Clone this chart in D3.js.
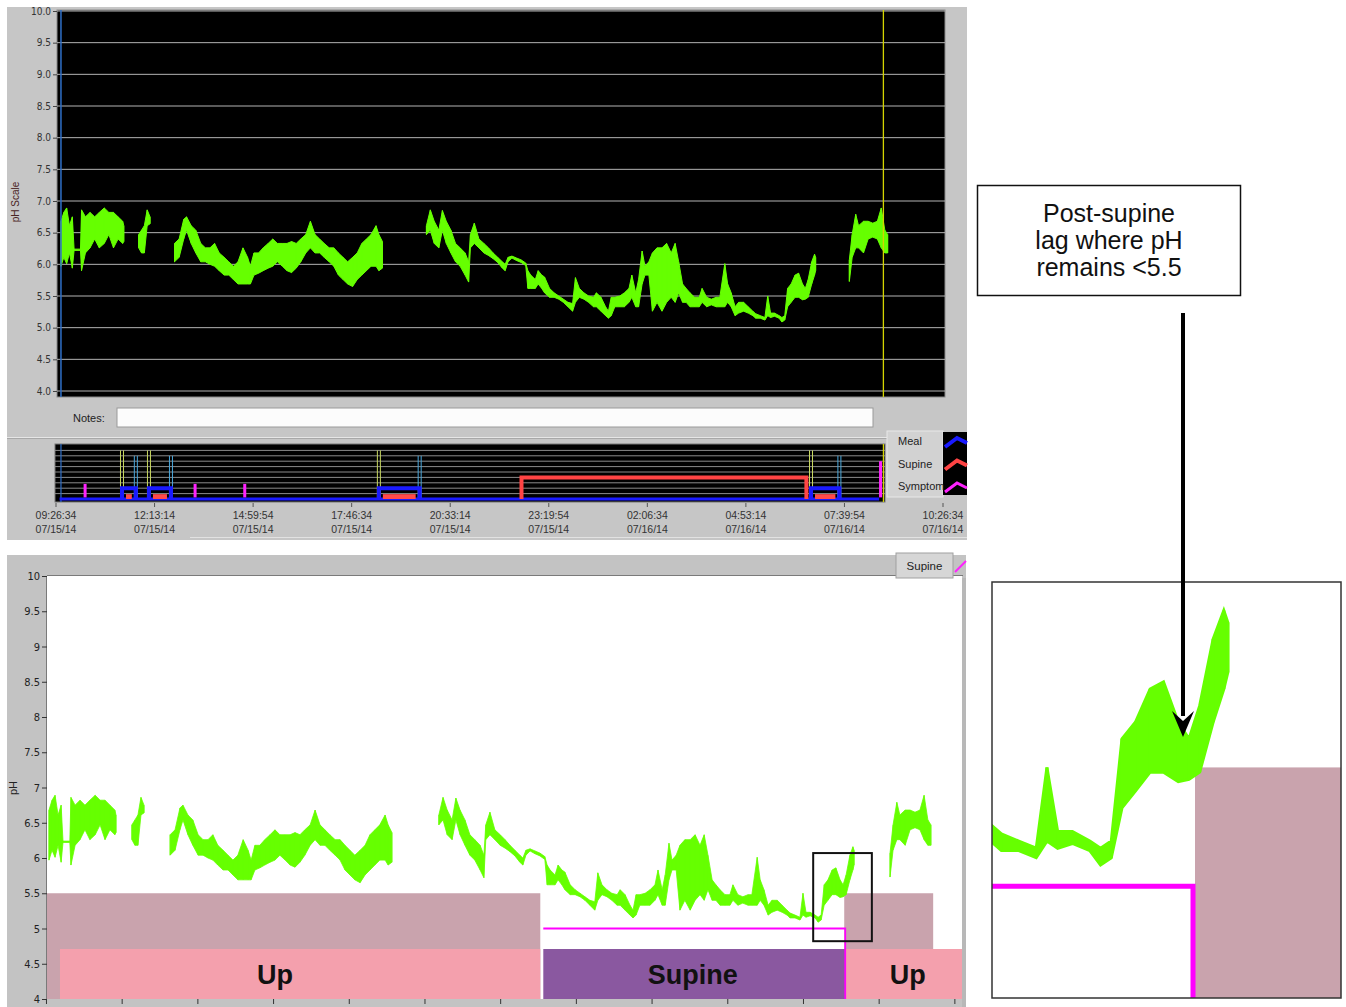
<!DOCTYPE html>
<html><head><meta charset="utf-8">
<script src="https://cdn.jsdelivr.net/npm/d3@7"></script>
<style>
body{margin:0;background:#fff;}
svg{display:block;font-family:"Liberation Sans",Arial,sans-serif;}
</style>
</head><body>
<svg id="c" width="1346" height="1007"></svg>
<script>
// ---------------- DATA (time in hours since 09:26:34 07/15/14; [t, pH low, pH high]) ----------------
const phSegA = [[0.14,5.97,6.68],[0.22,6.11,6.82],[0.30,6.01,6.89],[0.38,6.18,6.61],[0.46,5.94,6.75],[0.51,6.22,6.24],[0.69,6.22,6.24],[0.72,5.90,6.86],[0.83,6.18,6.75],[0.96,6.26,6.82],[1.09,6.40,6.75],[1.22,6.26,6.82],[1.36,6.33,6.89],[1.49,6.47,6.82],[1.62,6.26,6.82],[1.75,6.40,6.75],[1.88,6.33,6.68],[1.91,6.36,6.61]];
const phSegB = [[2.33,6.26,6.47],[2.41,6.18,6.54],[2.49,6.18,6.61],[2.57,6.61,6.86],[2.65,6.64,6.75]];
const phSegC = [[3.34,6.04,6.33],[3.47,6.11,6.40],[3.60,6.40,6.71],[3.68,6.54,6.75],[3.81,6.33,6.61],[3.94,6.18,6.54],[4.08,6.04,6.33],[4.21,6.04,6.26],[4.34,6.00,6.26],[4.47,5.97,6.33],[4.60,5.90,6.18],[4.74,5.83,6.11],[4.87,5.83,6.04],[5.00,5.76,5.97],[5.13,5.69,6.04],[5.27,5.69,6.26],[5.40,5.69,6.11],[5.48,5.69,5.97],[5.58,5.83,6.18],[5.71,5.86,6.18],[5.84,5.90,6.26],[5.98,5.94,6.33],[6.11,5.97,6.40],[6.24,6.04,6.33],[6.38,5.97,6.33],[6.51,5.90,6.33],[6.64,5.87,6.36],[6.77,5.94,6.33],[6.90,6.04,6.40],[7.04,6.18,6.47],[7.17,6.26,6.68],[7.30,6.18,6.47],[7.43,6.18,6.40],[7.56,6.11,6.33],[7.70,6.04,6.26],[7.83,5.97,6.26],[7.96,5.83,6.18],[8.09,5.76,6.11],[8.22,5.69,6.04],[8.36,5.65,6.11],[8.49,5.76,6.18],[8.62,5.83,6.33],[8.75,5.90,6.40],[8.88,5.97,6.47],[9.02,5.97,6.61],[9.10,5.90,6.47],[9.20,5.94,6.36]];
const phSegD = [[10.44,6.47,6.61],[10.55,6.54,6.86],[10.66,6.33,6.68],[10.79,6.26,6.54],[10.89,6.54,6.85],[11.00,6.33,6.68],[11.13,6.18,6.54],[11.26,6.04,6.33],[11.39,5.97,6.26],[11.53,5.83,6.18],[11.63,5.72,6.04],[11.68,6.26,6.47],[11.79,6.33,6.65],[11.92,6.26,6.40],[12.06,6.18,6.33],[12.19,6.14,6.26],[12.32,6.09,6.18],[12.45,6.03,6.11],[12.58,5.94,6.04],[12.66,5.90,6.00],[12.74,6.04,6.11],[12.85,6.10,6.13],[12.98,6.06,6.10],[13.11,6.03,6.07],[13.24,5.98,6.02],[13.30,5.62,5.90],[13.38,5.62,5.83],[13.51,5.62,5.76],[13.59,5.69,5.90],[13.69,5.62,5.83],[13.77,5.55,5.80],[13.91,5.48,5.62],[14.04,5.48,5.55],[14.17,5.45,5.50],[14.30,5.40,5.45],[14.43,5.33,5.40],[14.56,5.26,5.38],[14.64,5.40,5.79],[14.75,5.48,5.62],[14.88,5.45,5.55],[15.01,5.40,5.50],[15.15,5.33,5.48],[15.23,5.33,5.55],[15.36,5.26,5.48],[15.49,5.19,5.33],[15.57,5.15,5.26],[15.65,5.19,5.48],[15.75,5.33,5.48],[15.89,5.33,5.50],[16.02,5.33,5.55],[16.15,5.40,5.62],[16.23,5.48,5.83],[16.34,5.33,5.55],[16.42,5.33,5.76],[16.52,5.69,6.21],[16.60,5.83,5.97],[16.71,5.83,6.04],[16.81,5.26,6.18],[16.94,5.40,6.26],[17.08,5.26,6.26],[17.21,5.40,6.33],[17.34,5.48,6.18],[17.45,5.40,6.33],[17.55,5.55,6.04],[17.66,5.40,5.69],[17.76,5.40,5.62],[17.87,5.33,5.55],[18.00,5.33,5.48],[18.13,5.33,5.48],[18.21,5.40,5.62],[18.34,5.33,5.48],[18.47,5.36,5.45],[18.61,5.33,5.48],[18.71,5.33,5.48],[18.85,5.33,6.01],[18.93,5.40,5.69],[19.03,5.33,5.55],[19.14,5.19,5.33],[19.24,5.23,5.40],[19.38,5.26,5.40],[19.51,5.23,5.33],[19.64,5.19,5.26],[19.72,5.15,5.22],[19.85,5.15,5.19],[19.98,5.12,5.16],[20.06,5.19,5.50],[20.14,5.16,5.23],[20.25,5.18,5.23],[20.38,5.15,5.19],[20.46,5.09,5.16],[20.54,5.12,5.19],[20.62,5.33,5.62],[20.72,5.40,5.69],[20.83,5.48,5.83],[20.93,5.48,5.86],[21.04,5.44,5.69],[21.12,5.45,5.62],[21.20,5.48,5.76],[21.30,5.69,6.04],[21.38,5.83,6.16],[21.41,5.90,6.11]];
const phSegE = [[22.36,5.73,6.07],[22.44,6.11,6.47],[22.54,6.26,6.79],[22.62,6.26,6.61],[22.76,6.18,6.68],[22.89,6.40,6.68],[23.02,6.43,6.65],[23.15,6.40,6.68],[23.26,6.26,6.89],[23.36,6.18,6.54],[23.44,6.18,6.47]];
const phSegments = [phSegA, phSegB, phSegC, phSegD, phSegE];

const phTicks = [4,4.5,5,5.5,6,6.5,7,7.5,8,8.5,9,9.5,10];
const stripTickTimes = ["09:26:34","12:13:14","14:59:54","17:46:34","20:33:14","23:19:54","02:06:34","04:53:14","07:39:54","10:26:34"];
const stripTickDates = ["07/15/14","07/15/14","07/15/14","07/15/14","07/15/14","07/15/14","07/16/14","07/16/14","07/16/14","07/16/14"];
const meals = [[1.86,2.25],[2.62,3.24],[9.10,10.25],[21.28,22.08]];
const supinePeriod = [13.12, 21.15];
const uprightPeriods = [[0.43,13.12],[21.15,24.3]];
const positionLabels = ["Up","Supine","Up"];
const positionLabelTimes = [6.11, 17.15, 22.83];
const acidZonesUpright = [[-1,13.12],[21.15,23.5]];
const uprightThreshold = 5.5, supineThreshold = 5.0;
const symptomTimes = [0.82,3.92,5.32,23.24];
const symptomLevels = [2.8,2.8,2.8,7];
const cursorTimes = [0.14, 23.32];
const legendItems = ["Meal","Supine","Symptom"];
const legendColors = ["#1a1aff","#ff4444","#ff22ff"];
const zoomWindow = {t0:20.33, t1:21.88, ph0:4.82, ph1:6.07};
const annotationLines = ["Post-supine","lag where pH","remains <5.5"];

// ---------------- DRAW ----------------
const svg = d3.select("#c");
const GREEN = "#66ff00";

function drawTrace(g, x, y, sw){
  const area = d3.area().x(d=>x(d[0])).y0(d=>y(d[1])).y1(d=>y(d[2]));
  phSegments.forEach(seg=>{
    g.append("path").attr("d",area(seg)).attr("fill",GREEN).attr("stroke",GREEN)
      .attr("stroke-width",sw).attr("stroke-linejoin","miter");
    g.selectAll(null).data(seg).enter().append("line")
      .attr("x1",d=>x(d[0])).attr("x2",d=>x(d[0])).attr("y1",d=>y(d[1])).attr("y2",d=>y(d[2]))
      .attr("stroke",GREEN).attr("stroke-width",sw);
  });
}

// ===== TOP PANEL =====
svg.append("rect").attr("x",7).attr("y",7).attr("width",960).attr("height",533).attr("fill","#c6c6c6");
const xT = d3.scaleLinear().domain([0,25]).range([56,943]);
const yT = d3.scaleLinear().domain([4,10]).range([391,11]);
svg.append("defs").append("clipPath").attr("id","clipT").append("rect").attr("x",57).attr("y",10).attr("width",888).attr("height",387);
svg.append("rect").attr("x",57).attr("y",10).attr("width",888).attr("height",387).attr("fill","#000").attr("stroke","#8a8a8a");
const gT = svg.append("g");
gT.selectAll("line.grid").data(phTicks).enter().append("line")
  .attr("x1",57).attr("x2",945).attr("y1",d=>yT(d)).attr("y2",d=>yT(d)).attr("stroke","#b4b4b4").attr("stroke-width",1);
const axT = d3.axisLeft(yT).tickValues(phTicks).tickFormat(d3.format(".1f")).tickSize(4).tickPadding(2);
const axTg = svg.append("g").attr("transform","translate(57,0)").call(axT);
axTg.select(".domain").remove();
axTg.selectAll("text").attr("font-size",10).attr("fill","#333").attr("font-family","DejaVu Sans Condensed, Liberation Sans, sans-serif");
axTg.selectAll("line").attr("stroke","#444");
svg.append("text").attr("transform","translate(19,202) rotate(-90)").attr("text-anchor","middle")
  .attr("font-size",10).attr("fill","#4a2424").text("pH Scale");
const traceT = svg.append("g").attr("clip-path","url(#clipT)");
drawTrace(traceT, xT, yT, 1);
traceT.append("line").attr("x1",xT(cursorTimes[0])).attr("x2",xT(cursorTimes[0])).attr("y1",10).attr("y2",397).attr("stroke","#2f6fc8").attr("stroke-width",1.5);
traceT.append("line").attr("x1",xT(cursorTimes[1])).attr("x2",xT(cursorTimes[1])).attr("y1",10).attr("y2",397).attr("stroke","#d4d400").attr("stroke-width",1.3);

// notes
svg.append("text").attr("x",73).attr("y",422).attr("font-size",11).attr("fill","#222").text("Notes:");
svg.append("rect").attr("x",117).attr("y",408).attr("width",756).attr("height",19).attr("fill","#fcfcfc").attr("stroke","#9a9a9a");
svg.append("line").attr("x1",7).attr("x2",967).attr("y1",437.5).attr("y2",437.5).attr("stroke","#e6e6e6");
svg.append("line").attr("x1",7).attr("x2",967).attr("y1",438.5).attr("y2",438.5).attr("stroke","#a8a8a8");

// ===== EVENT STRIP =====
const xS = d3.scaleLinear().domain([0,25]).range([56,943]);
const yS = d3.scaleLinear().domain([0,10]).range([499,445]);
svg.append("defs").append("clipPath").attr("id","clipS").append("rect").attr("x",55).attr("y",444).attr("width",830).attr("height",58);
svg.append("rect").attr("x",55).attr("y",444).attr("width",830).attr("height",58).attr("fill","#000").attr("stroke","#777");
const gS = svg.append("g").attr("clip-path","url(#clipS)");
gS.selectAll("line.g").data(d3.range(1,10)).enter().append("line")
  .attr("x1",55).attr("x2",885).attr("y1",d=>yS(d)).attr("y2",d=>yS(d)).attr("stroke","#8a8a8a").attr("stroke-width",1);
meals.forEach(m=>{
  [-1.5,1.5].forEach(o=>{
    gS.append("line").attr("x1",xS(m[0])+o).attr("x2",xS(m[0])+o).attr("y1",yS(9)).attr("y2",yS(0)).attr("stroke","#c8d860").attr("stroke-width",1);
    gS.append("line").attr("x1",xS(m[1])+o).attr("x2",xS(m[1])+o).attr("y1",yS(8)).attr("y2",yS(0)).attr("stroke","#4aa8dc").attr("stroke-width",1);
  });
});
gS.append("line").attr("x1",xS(cursorTimes[0])).attr("x2",xS(cursorTimes[0])).attr("y1",444).attr("y2",502).attr("stroke","#2f6fc8").attr("stroke-width",1.2);
gS.append("line").attr("x1",xS(cursorTimes[1])).attr("x2",xS(cursorTimes[1])).attr("y1",444).attr("y2",502).attr("stroke","#d8d800").attr("stroke-width",1.2);
gS.append("line").attr("x1",xS(0.1)).attr("x2",xS(23.2)).attr("y1",yS(0)).attr("y2",yS(0)).attr("stroke","#1a1aff").attr("stroke-width",3);
meals.forEach(m=>{
  gS.append("rect").attr("x",xS(m[0])+4).attr("y",yS(0.9)).attr("width",xS(m[1])-xS(m[0])-8).attr("height",yS(0)-yS(0.9)).attr("fill","#ff4a4a");
  gS.append("path").attr("d",`M${xS(m[0])},${yS(0)}V${yS(2)}H${xS(m[1])}V${yS(0)}`).attr("fill","none").attr("stroke","#1a1aff").attr("stroke-width",4);
});
gS.append("path").attr("d",`M${xS(supinePeriod[0])},${yS(0)}V${yS(4)}H${xS(supinePeriod[1])}V${yS(0)}`)
  .attr("fill","none").attr("stroke","#ff4444").attr("stroke-width",4);
symptomTimes.forEach((t,i)=>{
  gS.append("line").attr("x1",xS(t)).attr("x2",xS(t)).attr("y1",yS(0.3)).attr("y2",yS(symptomLevels[i])).attr("stroke","#ff22ff").attr("stroke-width",3);
});
stripTickTimes.forEach((lab,i)=>{
  const t = i*25/9, x = xS(t);
  svg.append("line").attr("x1",x).attr("x2",x).attr("y1",503).attr("y2",507).attr("stroke","#555");
  svg.append("text").attr("x",x).attr("y",519).attr("text-anchor","middle").attr("font-size",10.5).attr("fill","#333").text(lab);
  svg.append("text").attr("x",x).attr("y",533).attr("text-anchor","middle").attr("font-size",10.5).attr("fill","#333").text(stripTickDates[i]);
});
svg.append("rect").attr("x",887).attr("y",431).attr("width",56).attr("height",66).attr("fill","#d2d2d2").attr("stroke","#e8e8e8");
svg.append("rect").attr("x",943).attr("y",432).attr("width",24).attr("height",63).attr("fill","#000");
legendItems.forEach((lab,i)=>{
  const cy = 441 + i*22.5;
  svg.append("text").attr("x",898).attr("y",cy+4).attr("font-size",11).attr("fill","#222").text(lab);
  svg.append("polyline").attr("points",`945,${cy+6} 957,${cy-3} 967,${cy+2}`).attr("fill","none").attr("stroke",legendColors[i]).attr("stroke-width",i===2?3:4);
});
svg.append("line").attr("x1",190).attr("x2",967).attr("y1",537.5).attr("y2",537.5).attr("stroke","#e2e2e2");

// ===== BOTTOM PANEL =====
svg.append("rect").attr("x",7).attr("y",555).attr("width",959).attr("height",452).attr("fill","#c3c3c3");
const PL=47, PR=962, PT=576, PB=999;
const xB = d3.scaleLinear().domain([0,25]).range([43.7, 43.7+37.85*25]);
const yB = d3.scaleLinear().domain([4,10]).range([PB,PT]);
svg.append("defs").append("clipPath").attr("id","clipB").append("rect").attr("x",PL).attr("y",PT).attr("width",PR-PL).attr("height",PB-PT);
svg.append("rect").attr("x",PL).attr("y",PT).attr("width",PR-PL).attr("height",PB-PT).attr("fill","#fff");
svg.append("line").attr("x1",PL).attr("x2",PR+1).attr("y1",PT-0.5).attr("y2",PT-0.5).attr("stroke","#7a7a7a");
svg.append("line").attr("x1",PL-0.5).attr("x2",PL-0.5).attr("y1",PT).attr("y2",PB).attr("stroke","#7a7a7a");
const gB = svg.append("g").attr("clip-path","url(#clipB)");
acidZonesUpright.forEach(z=>{
  gB.append("rect").attr("x",xB(z[0])).attr("y",yB(uprightThreshold)).attr("width",xB(z[1])-xB(z[0])).attr("height",PB-yB(uprightThreshold)).attr("fill","#c9a3ad");
});
const bandH = 50;
uprightPeriods.forEach(p=>{
  gB.append("rect").attr("x",xB(p[0])).attr("y",PB-bandH).attr("width",xB(p[1])-xB(p[0])).attr("height",bandH).attr("fill","#f4a0ad");
});
gB.append("rect").attr("x",xB(supinePeriod[0])+3).attr("y",PB-bandH).attr("width",xB(supinePeriod[1])-xB(supinePeriod[0])-2).attr("height",bandH).attr("fill","#8a58a0");
positionLabels.forEach((lab,i)=>{
  gB.append("text").attr("x",xB(positionLabelTimes[i])).attr("y",PB-bandH/2+10).attr("text-anchor","middle")
    .attr("font-size",27).attr("font-weight","bold").attr("fill","#111").text(lab);
});
gB.append("path").attr("d",`M${xB(supinePeriod[0])+3},${yB(supineThreshold)}H${xB(supinePeriod[1])+1}V${PB}`)
  .attr("fill","none").attr("stroke","#ff00ff").attr("stroke-width",1.8);
drawTrace(gB, xB, yB, 0.8);
gB.append("rect").attr("x",xB(zoomWindow.t0)).attr("y",yB(zoomWindow.ph1)).attr("width",xB(zoomWindow.t1)-xB(zoomWindow.t0)).attr("height",yB(zoomWindow.ph0)-yB(zoomWindow.ph1))
  .attr("fill","none").attr("stroke","#111").attr("stroke-width",2);
const axB = d3.axisLeft(yB).tickValues(phTicks).tickFormat(d3.format("~g")).tickSize(5).tickPadding(2);
const axBg = svg.append("g").attr("transform",`translate(${PL},0)`).call(axB);
axBg.select(".domain").remove();
axBg.selectAll("text").attr("font-size",11).attr("fill","#222").attr("font-family","DejaVu Sans Condensed, Liberation Sans, sans-serif");
axBg.selectAll("line").attr("stroke","#333");
const axBx = d3.axisBottom(xB).tickValues(d3.range(13).map(k=>0.06+2*k)).tickFormat("").tickSize(5);
const axBxg = svg.append("g").attr("transform",`translate(0,${PB})`).call(axBx);
axBxg.select(".domain").remove();
axBxg.selectAll("line").attr("stroke","#333");
svg.append("text").attr("transform","translate(17,788) rotate(-90)").attr("text-anchor","middle").attr("font-size",11).attr("fill","#222").text("pH");
svg.append("rect").attr("x",962).attr("y",578).attr("width",4).attr("height",429).attr("fill","#b8b8b8");
svg.append("rect").attr("x",896).attr("y",553).attr("width",57).attr("height",25).attr("fill","#d6d6d6").attr("stroke","#a0a0a0");
svg.append("text").attr("x",924.5).attr("y",570).attr("text-anchor","middle").attr("font-size",11.5).attr("fill","#222").text("Supine");
svg.append("line").attr("x1",955).attr("y1",572).attr("x2",966).attr("y2",561).attr("stroke","#ff22ff").attr("stroke-width",2);

// ===== ANNOTATION BOX =====
svg.append("rect").attr("x",977.5).attr("y",185.5).attr("width",263).attr("height",110).attr("fill","#fff").attr("stroke","#111").attr("stroke-width",1.5);
annotationLines.forEach((l,i)=>{
  svg.append("text").attr("x",1109).attr("y",222+i*26.8).attr("text-anchor","middle").attr("font-size",25).attr("fill","#111").text(l);
});

// ===== INSET =====
const IL=992, IR=1341, IT=582, IB=998;
const xI = d3.scaleLinear().domain([19.65, 19.65+(IR-IL)/134]).range([IL,IR]);
const yI = d3.scaleLinear().domain([4.53, 6.28]).range([IB,IT]);
svg.append("defs").append("clipPath").attr("id","clipI").append("rect").attr("x",IL).attr("y",IT).attr("width",IR-IL).attr("height",IB-IT);
svg.append("rect").attr("x",IL).attr("y",IT).attr("width",IR-IL).attr("height",IB-IT).attr("fill","#fff");
const gI = svg.append("g").attr("clip-path","url(#clipI)");
gI.append("rect").attr("x",xI(supinePeriod[1])+2).attr("y",yI(uprightThreshold)).attr("width",IR-xI(supinePeriod[1])).attr("height",IB-yI(uprightThreshold)).attr("fill","#c9a3ad");
gI.append("path").attr("d",`M${IL},${yI(supineThreshold)}H${xI(supinePeriod[1])}V${IB}`).attr("fill","none").attr("stroke","#ff00ff").attr("stroke-width",5);
drawTrace(gI, xI, yI, 3);
svg.append("rect").attr("x",IL).attr("y",IT).attr("width",IR-IL).attr("height",IB-IT).attr("fill","none").attr("stroke","#333").attr("stroke-width",1.5);

// ===== ARROW (drawn over inset) =====
svg.append("line").attr("x1",1183).attr("x2",1183).attr("y1",313).attr("y2",716).attr("stroke","#000").attr("stroke-width",4);
svg.append("polygon").attr("points","1172,711 1183,737 1194,711 1183,721").attr("fill","#000");
</script>
</body></html>
